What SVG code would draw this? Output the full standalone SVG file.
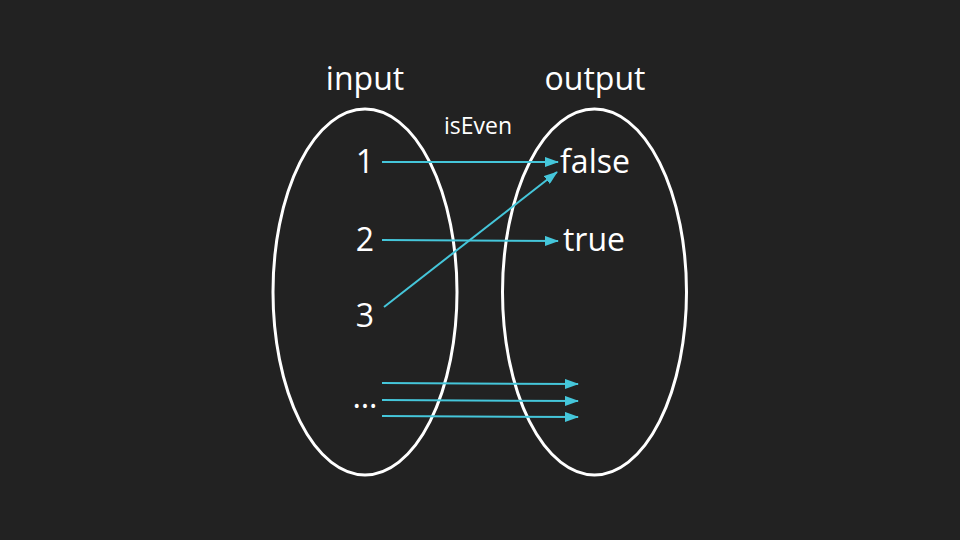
<svg xmlns="http://www.w3.org/2000/svg" width="960" height="540" viewBox="0 0 960 540">
<defs>
<style>
.set{fill:none;stroke:#ffffff;stroke-width:3}
.t{font-family:"Open Sans","Noto Sans",sans-serif;fill:#ffffff;text-anchor:middle}
.big{font-size:32px}
.small{font-size:23px}
.c{stroke:#45c6da;stroke-width:2;fill:none;marker-end:url(#ah)}
</style>
<marker id="ah" viewBox="0 0 14 10" refX="13" refY="5" markerWidth="14" markerHeight="10" markerUnits="userSpaceOnUse" orient="auto">
<path d="M0,0 L14,5 L0,10 Z" fill="#45c6da"/>
</marker>
</defs>
<rect width="960" height="540" fill="#222222"/>
<g id="input-set">
<ellipse class="set" cx="365" cy="292" rx="92" ry="183"/>
<text class="t big" x="365" y="90">input</text>
</g>
<g id="output-set">
<ellipse class="set" cx="594.5" cy="292" rx="92" ry="183"/>
<text class="t big" x="595" y="90">output</text>
</g>
<g id="label-isEven"><text class="t small" x="478" y="134">isEven</text></g>
<g id="n1"><text class="t big" x="365" y="173">1</text></g>
<g id="n2"><text class="t big" x="365" y="251">2</text></g>
<g id="n3"><text class="t big" x="365" y="327">3</text></g>
<g id="ndots"><text class="t big" x="365" y="408">…</text></g>
<g id="nfalse"><text class="t big" x="595" y="173">false</text></g>
<g id="ntrue"><text class="t big" x="594" y="251">true</text></g>
<g id="connectors">
<line class="c" x1="382" y1="162" x2="558" y2="162"/>
<line class="c" x1="382" y1="240" x2="558" y2="241"/>
<line class="c" x1="384" y1="307" x2="557" y2="172"/>
<line class="c" x1="382" y1="383" x2="578" y2="384"/>
<line class="c" x1="382" y1="400" x2="578" y2="401"/>
<line class="c" x1="382" y1="416" x2="578" y2="417"/>
</g>
</svg>
